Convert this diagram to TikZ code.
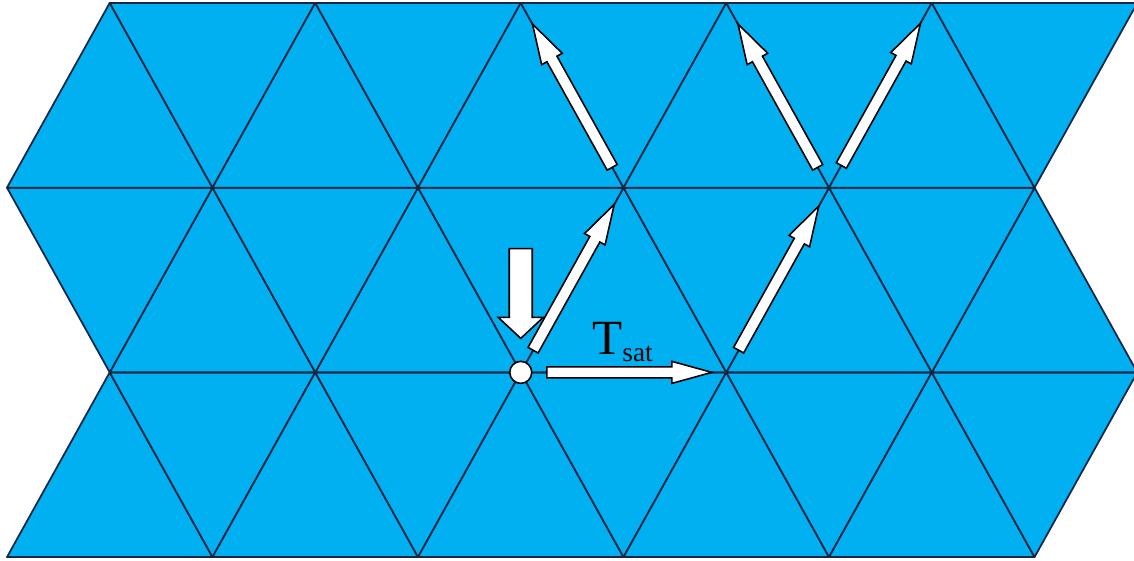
\documentclass[tikz,border=0pt]{standalone}
\usepackage{fontspec}
\setmainfont{Liberation Serif}
\usetikzlibrary{calc}

\definecolor{cellblue}{RGB}{0,176,240}
\definecolor{gridline}{RGB}{20,38,70}

% white block arrow: #1 tail, #2 tip, #3 half shaft, #4 half head, #5 head length
\newcommand{\flowarrow}[5]{%
  \coordinate (tl) at (#1);
  \coordinate (tp) at (#2);
  \coordinate (hb) at ($(tp)!#5!(tl)$);
  \filldraw[flow] ($(tl)!#3!90:(tp)$) -- ($(hb)!#3!-90:(tl)$)
    -- ($(hb)!#4!-90:(tl)$) -- (tp) -- ($(hb)!#4!90:(tl)$)
    -- ($(hb)!#3!90:(tl)$) -- ($(tl)!#3!-90:(tp)$) -- cycle;}

\begin{document}
\begin{tikzpicture}[x=4.11cm,y=3.694cm,
    cell/.style={fill=cellblue,draw=gridline,line width=1pt,line join=round},
    flow/.style={fill=white,draw=black,line width=0.9pt,line join=miter}]
  \useasboundingbox (-0.034,-0.016) rectangle (5.484,3.016);
  \clip (-0.034,-0.016) rectangle (5.484,3.016);
  % triangular lattice, three rows of up and down cells
  \foreach \row/\lo/\hi in {0/0/0.5,1/0.5/0,2/0/0.5}{
    \foreach \k in {0,...,4}{
      \filldraw[cell] (\k+\lo,\row) -- (\k+\lo+1,\row) -- (\k+\lo+0.5,\row+1) -- cycle;
      \filldraw[cell] (\k+\hi,\row+1) -- (\k+\hi+1,\row+1) -- (\k+\hi+0.5,\row) -- cycle;
    }
  }
  % lattice sites used by the arrows
  \coordinate (O) at (2.5,1);
  \coordinate (Oup) at (2.5,2);
  \coordinate (A) at (3,2);
  \coordinate (B) at (3.5,1);
  \coordinate (C) at (4,2);
  \coordinate (D) at (2.5,3);
  \coordinate (E) at (3.5,3);
  \coordinate (F) at (4.5,3);
  % incoming flux
  \flowarrow{$(Oup)!0.33!(O)$}{$(O)!0.184!(Oup)$}{0.23cm}{0.45cm}{0.42cm}
  % hops along the bonds
  \flowarrow{$(O)!0.127!(B)$}{$(O)!0.93!(B)$}{0.11cm}{0.22cm}{0.8cm}
  \flowarrow{$(O)!0.12!(A)$}{$(O)!0.91!(A)$}{0.115cm}{0.235cm}{0.8cm}
  \flowarrow{$(B)!0.12!(C)$}{$(B)!0.9!(C)$}{0.115cm}{0.235cm}{0.8cm}
  \flowarrow{$(A)!0.11!(D)$}{$(A)!0.886!(D)$}{0.115cm}{0.235cm}{0.8cm}
  \flowarrow{$(C)!0.11!(E)$}{$(C)!0.886!(E)$}{0.115cm}{0.235cm}{0.8cm}
  \flowarrow{$(C)!0.12!(F)$}{$(C)!0.89!(F)$}{0.115cm}{0.235cm}{0.8cm}
  % source site and label
  \node[circle,draw=black,fill=white,line width=0.9pt,minimum size=0.44cm,inner sep=0pt] (src) at (O) {};
  \node[anchor=base west,inner sep=0pt,font=\fontsize{28}{30}\selectfont] (tsat) at (2.847,1.097)
    {T\raisebox{-0.14em}{\fontsize{15.5}{16}\selectfont sat}};
\end{tikzpicture}
\end{document}
